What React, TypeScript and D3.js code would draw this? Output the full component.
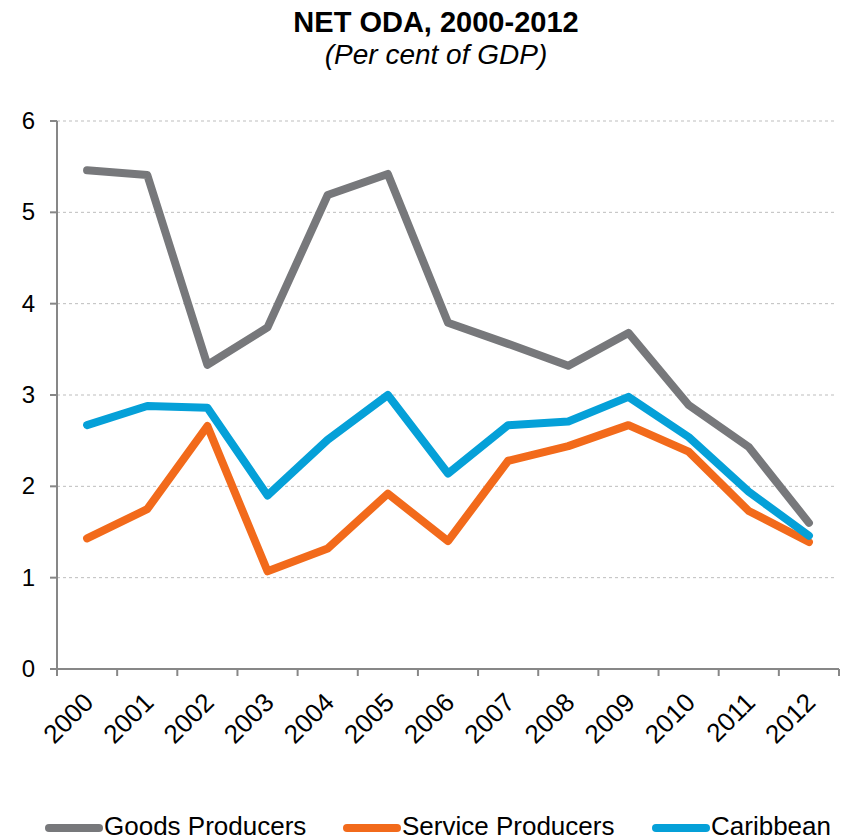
import React from "react";
import * as d3 from "d3";

const years = ["2000","2001","2002","2003","2004","2005","2006","2007","2008","2009","2010","2011","2012"];
const goodsProducers = [5.46, 5.41, 3.33, 3.74, 5.19, 5.42, 3.79, 3.56, 3.32, 3.68, 2.89, 2.43, 1.60];
const serviceProducers = [1.43, 1.75, 2.66, 1.07, 1.32, 1.92, 1.40, 2.28, 2.44, 2.67, 2.38, 1.73, 1.39];
const caribbean = [2.67, 2.88, 2.86, 1.90, 2.51, 3.00, 2.14, 2.67, 2.71, 2.98, 2.54, 1.94, 1.46];
const yTicks = [0, 1, 2, 3, 4, 5, 6];

const seriesNames = ["Goods Producers", "Service Producers", "Caribbean"];
const seriesColors = ["#77787b", "#f26a1b", "#05a0d8"];
const seriesValues = [goodsProducers, serviceProducers, caribbean];

const W = 841;
const H = 840;
const left = 57;
const right = 839;
const top = 121;
const bottom = 669;
const FONT = "'Liberation Sans', Arial, sans-serif";

export default function App() {
  const x = d3.scaleBand<string>().domain(years).range([left, right]);
  const y = d3.scaleLinear().domain([0, 6]).range([bottom, top]);
  const cx = (yr: string) => (x(yr) as number) + x.bandwidth() / 2;
  const line = d3
    .line<number>()
    .x((_, i) => cx(years[i]))
    .y((v) => y(v));

  const bounds = years.map((yr) => x(yr) as number).concat([right]);

  const legendItems = [
    { lx: 45, tx: 104 },
    { lx: 343, tx: 402 },
    { lx: 652, tx: 711 },
  ];

  return (
    <svg
      width={W}
      height={H}
      style={{ position: "absolute", left: 0, top: 0, background: "#fff" }}
      fontFamily={FONT}
    >
      <text x={436} y={32} textAnchor="middle" fontSize={29} fontWeight="bold" fill="#000">
        NET ODA, 2000-2012
      </text>
      <text x={436} y={64} textAnchor="middle" fontSize={28} fontStyle="italic" fill="#000">
        (Per cent of GDP)
      </text>

      {yTicks.slice(1).map((t) => (
        <line
          key={"g" + t}
          x1={left}
          x2={right - 4}
          y1={y(t)}
          y2={y(t)}
          stroke="#bdbdbd"
          strokeWidth={1}
          strokeDasharray="3,3"
        />
      ))}

      <line x1={left} x2={left} y1={top} y2={bottom} stroke="#878787" strokeWidth={2} />
      <line x1={left} x2={right} y1={bottom} y2={bottom} stroke="#878787" strokeWidth={2} />
      {yTicks.map((t) => (
        <g key={"y" + t}>
          <line x1={left - 7} x2={left} y1={y(t)} y2={y(t)} stroke="#878787" strokeWidth={2} />
          <text x={35} y={y(t) + 8} textAnchor="end" fontSize={24} fill="#000">
            {t}
          </text>
        </g>
      ))}
      {bounds.map((b, i) => (
        <line key={"xt" + i} x1={b} x2={b} y1={bottom} y2={bottom + 7} stroke="#878787" strokeWidth={2} />
      ))}
      {years.map((yr) => (
        <text
          key={"xl" + yr}
          transform={`translate(${cx(yr) + 8},${bottom + 35}) rotate(-45)`}
          textAnchor="end"
          fontSize={26}
          fill="#000"
        >
          {yr}
        </text>
      ))}

      {seriesValues.map((vals, i) => (
        <path
          key={"s" + i}
          d={line(vals) as string}
          fill="none"
          stroke={seriesColors[i]}
          strokeWidth={8}
          strokeLinejoin="round"
          strokeLinecap="round"
        />
      ))}

      {seriesNames.map((name, i) => (
        <g key={"lg" + i}>
          <line
            x1={legendItems[i].lx + 4}
            x2={legendItems[i].lx + 54}
            y1={828}
            y2={828}
            stroke={seriesColors[i]}
            strokeWidth={8}
            strokeLinecap="round"
          />
          <text x={legendItems[i].tx} y={835} fontSize={26} fill="#000">
            {name}
          </text>
        </g>
      ))}
    </svg>
  );
}
